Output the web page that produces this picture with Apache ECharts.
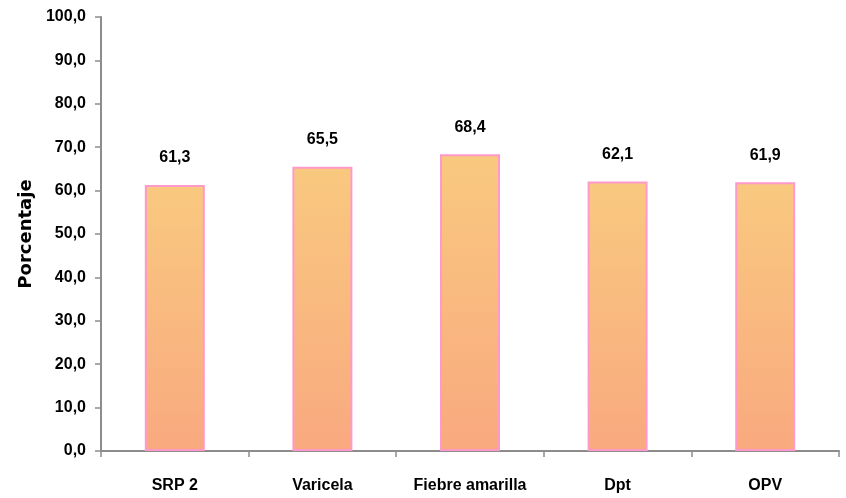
<!DOCTYPE html>
<html>
<head>
<meta charset="utf-8">
<script src="https://cdn.jsdelivr.net/npm/echarts@6/dist/echarts.min.js"></script>
<style>html,body{margin:0;padding:0;background:#fff}#c{width:846px;height:498px}</style>
</head>
<body>
<div id="c"></div>
<script>
var categories = ['SRP 2', 'Varicela', 'Fiebre amarilla', 'Dpt', 'OPV'];
var values = [61.3, 65.5, 68.4, 62.1, 61.9];
var yTicks = [0, 10, 20, 30, 40, 50, 60, 70, 80, 90, 100];
var yAxisName = 'Porcentaje';

var fnt = '"Liberation Sans", Arial, sans-serif';
function fmt(v) { return v.toFixed(1).replace('.', ','); }

var chart = echarts.init(document.getElementById('c'), null, {renderer: 'canvas'});
chart.setOption({
  animation: false,
  grid: {left: 101, right: 7, top: 17, bottom: 47},
  xAxis: {
    type: 'category',
    data: categories,
    axisLine: {lineStyle: {color: '#8c8c8c', width: 2}},
    axisTick: {show: true, length: 6, lineStyle: {color: '#8c8c8c', width: 1.5}},
    axisLabel: {color: '#000', fontFamily: fnt, fontWeight: 'bold', fontSize: 16, margin: 27, interval: 0}
  },
  yAxis: {
    type: 'value',
    min: yTicks[0], max: yTicks[yTicks.length - 1], interval: 10,
    name: yAxisName,
    nameLocation: 'middle',
    nameGap: 60,
    nameRotate: 90,
    nameTextStyle: {color: '#000', fontFamily: '"DejaVu Sans", sans-serif', fontWeight: 'bold', fontSize: 18},
    splitLine: {show: false},
    axisLine: {show: true, lineStyle: {color: '#8c8c8c', width: 2}},
    axisTick: {show: true, length: 6, lineStyle: {color: '#8c8c8c', width: 1.5}},
    axisLabel: {color: '#000', fontFamily: fnt, fontWeight: 'bold', fontSize: 16, margin: 15, formatter: fmt}
  },
  series: [{
    type: 'bar',
    data: values,
    barWidth: 60,
    itemStyle: {
      color: new echarts.graphic.LinearGradient(0, 0, 0, 1, [
        {offset: 0, color: '#F9C97F'},
        {offset: 1, color: '#F9A97F'}
      ]),
      borderColor: '#FF99CC',
      borderWidth: 2
    },
    label: {
      show: true, position: 'top', distance: 19,
      color: '#000', fontFamily: fnt, fontWeight: 'bold', fontSize: 16,
      formatter: function (p) { return fmt(p.value); }
    }
  }]
});
</script>
</body>
</html>
